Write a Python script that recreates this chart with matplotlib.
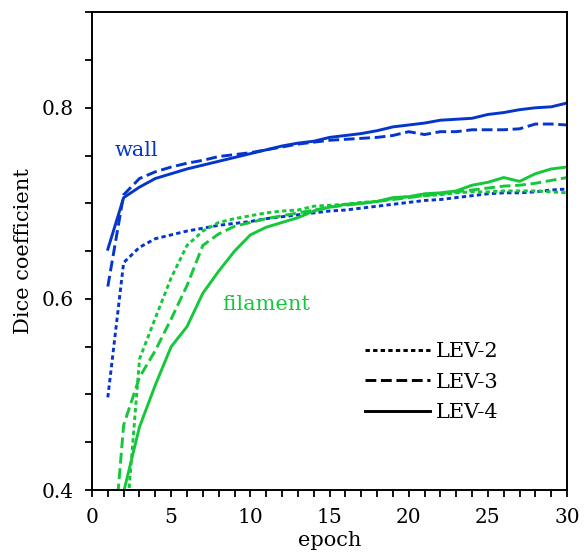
import matplotlib
matplotlib.use("Agg")
import matplotlib.pyplot as plt
from matplotlib.lines import Line2D
from matplotlib.ticker import MultipleLocator
import numpy as np

epochs = list(range(1, 31))

wall_lev2 = [0.497, 0.638, 0.654, 0.663, 0.667, 0.671, 0.674, 0.677, 0.679, 0.681,
             0.684, 0.686, 0.688, 0.690, 0.692, 0.693, 0.695, 0.697, 0.699, 0.701,
             0.703, 0.704, 0.706, 0.708, 0.710, 0.711, 0.711, 0.712, 0.714, 0.715]
wall_lev3 = [0.613, 0.709, 0.726, 0.733, 0.738, 0.742, 0.745, 0.749, 0.751, 0.753,
             0.756, 0.759, 0.762, 0.764, 0.766, 0.767, 0.768, 0.769, 0.771, 0.775,
             0.772, 0.775, 0.775, 0.777, 0.777, 0.777, 0.778, 0.783, 0.783, 0.782]
wall_lev4 = [0.652, 0.706, 0.717, 0.726, 0.731, 0.736, 0.740, 0.744, 0.748, 0.752,
             0.756, 0.760, 0.763, 0.765, 0.769, 0.771, 0.773, 0.776, 0.780, 0.782,
             0.784, 0.787, 0.788, 0.789, 0.793, 0.795, 0.798, 0.800, 0.801, 0.805]
fil_lev2 = [0.20, 0.33, 0.537, 0.580, 0.622, 0.656, 0.671, 0.680, 0.684, 0.687,
            0.690, 0.692, 0.693, 0.697, 0.698, 0.699, 0.701, 0.702, 0.705, 0.707,
            0.708, 0.709, 0.711, 0.712, 0.712, 0.713, 0.713, 0.713, 0.712, 0.711]
fil_lev3 = [0.27, 0.468, 0.518, 0.546, 0.579, 0.614, 0.656, 0.668, 0.676, 0.680,
            0.684, 0.687, 0.690, 0.693, 0.696, 0.698, 0.700, 0.702, 0.704, 0.706,
            0.708, 0.710, 0.712, 0.714, 0.716, 0.718, 0.719, 0.721, 0.724, 0.727]
fil_lev4 = [0.25, 0.398, 0.466, 0.510, 0.550, 0.571, 0.606, 0.629, 0.650, 0.667,
            0.675, 0.680, 0.685, 0.692, 0.696, 0.699, 0.700, 0.702, 0.706, 0.707,
            0.710, 0.711, 0.713, 0.719, 0.722, 0.727, 0.723, 0.731, 0.736, 0.738]

legend_labels = ["LEV-2", "LEV-3", "LEV-4"]

BLUE = "#0536cc"
GREEN = "#14c83a"
DOT = (0, (1.5, 1.1))
DASH = (0, (3.7, 1.6))
SOLID = "-"

plt.rcParams["font.family"] = "DejaVu Serif"
plt.rcParams["mathtext.fontset"] = "dejavuserif"

fig = plt.figure(figsize=(5.84, 5.55), dpi=100)
ax = fig.add_axes([0.1575, 0.117, 0.8135, 0.861])

lw = 2.1
ax.plot(epochs, wall_lev2, color=BLUE, lw=lw, linestyle=DOT)
ax.plot(epochs, wall_lev3, color=BLUE, lw=lw, linestyle=DASH)
ax.plot(epochs, wall_lev4, color=BLUE, lw=lw, linestyle=SOLID)
ax.plot(epochs, fil_lev2, color=GREEN, lw=lw, linestyle=DOT)
ax.plot(epochs, fil_lev3, color=GREEN, lw=lw, linestyle=DASH)
ax.plot(epochs, fil_lev4, color=GREEN, lw=lw, linestyle=SOLID)

ax.set_xlim(0, 30)
ax.set_ylim(0.4, 0.9)
ax.xaxis.set_major_locator(MultipleLocator(5))
ax.xaxis.set_minor_locator(MultipleLocator(1))
ax.yaxis.set_major_locator(MultipleLocator(0.2))
ax.yaxis.set_minor_locator(MultipleLocator(0.05))
ax.yaxis.set_major_formatter(matplotlib.ticker.FormatStrFormatter("%.1f"))
ax.tick_params(which="both", direction="out", length=5, width=1.3,
               labelsize=14.5, pad=8)
for s in ax.spines.values():
    s.set_linewidth(1.4)

ax.set_xlabel("epoch", fontsize=15, labelpad=3)
ax.set_ylabel("Dice coefficient", fontsize=15, labelpad=6)

ax.text(1.45, 0.755, "wall", color=BLUE, fontsize=15, va="center", ha="left")
ax.text(8.2, 0.594, "filament", color=GREEN, fontsize=15, va="center", ha="left")

handles = [Line2D([], [], color="black", lw=lw, linestyle=DOT),
           Line2D([], [], color="black", lw=lw, linestyle=DASH),
           Line2D([], [], color="black", lw=lw, linestyle=SOLID)]
ax.legend(handles, legend_labels, loc="center left", bbox_to_anchor=(0.575, 0.226),
          frameon=False, fontsize=15, handlelength=3.1, handletextpad=0.3,
          labelspacing=0.55, borderpad=0, borderaxespad=0)

fig.savefig("out.png", dpi=100)
